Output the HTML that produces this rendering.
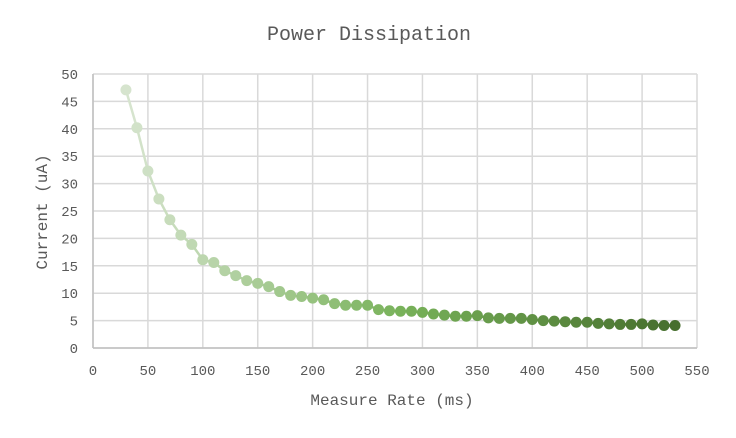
<!DOCTYPE html>
<html><head><meta charset="utf-8"><style>
html,body{margin:0;padding:0;background:#fff;width:736px;height:438px;overflow:hidden}
svg text{font-family:"Liberation Mono","Noto Serif CJK SC",monospace;fill:#595959}
</style></head><body>
<svg id="c" width="736" height="438" xmlns="http://www.w3.org/2000/svg">
<text x="369" y="40" font-size="20" text-anchor="middle">Power Dissipation</text>
<text x="392" y="405" font-size="16" text-anchor="middle">Measure Rate (ms)</text>
<text transform="translate(47,212) rotate(-90)" font-size="16" text-anchor="middle">Current (uA)</text>
<g id="g"></g>
</svg>
<script>
var g=document.getElementById('g'),s='';
var X0=93,XS=604/550,Y0=348,YS=274/50;
for(var i=0;i<=11;i++){var x=X0+i*50*XS;s+='<line x1="'+x+'" y1="74" x2="'+x+'" y2="'+Y0+'" stroke="#d9d9d9" stroke-width="1.5"/>';
s+='<text x="'+x+'" y="375" font-size="14" text-anchor="middle">'+(i*50)+'</text>';}
for(var j=0;j<=10;j++){var y=Y0-j*5*YS;s+='<line x1="'+X0+'" y1="'+y+'" x2="697" y2="'+y+'" stroke="#d9d9d9" stroke-width="1.5"/>';
s+='<text x="78" y="'+(y+5)+'" font-size="14" text-anchor="end">'+(j*5)+'</text>';}
s+='<line x1="'+X0+'" y1="74" x2="'+X0+'" y2="'+Y0+'" stroke="#bfbfbf" stroke-width="1.5"/>';
s+='<line x1="'+X0+'" y1="'+Y0+'" x2="697" y2="'+Y0+'" stroke="#bfbfbf" stroke-width="1.5"/>';
var v=[47.1,40.2,32.3,27.2,23.4,20.6,18.9,16.1,15.6,14.1,13.2,12.3,11.8,11.2,10.3,9.6,9.4,9.1,8.8,8.1,7.8,7.8,7.8,7.0,6.8,6.7,6.7,6.5,6.2,6.0,5.8,5.8,5.9,5.5,5.4,5.4,5.4,5.2,5.0,4.9,4.8,4.7,4.7,4.5,4.4,4.3,4.3,4.4,4.2,4.1,4.1];
var n=v.length;
function col(t){var a=[214,228,206],m=[120,178,90],b=[70,110,45],c;
if(t<0.5){var u=t/0.5;c=a.map(function(q,k){return Math.round(q+(m[k]-q)*u)});}
else{var u=(t-0.5)/0.5;c=m.map(function(q,k){return Math.round(q+(b[k]-q)*u)});}
return 'rgb('+c.join(',')+')';}
for(var k=0;k<n-1;k++){s+='<line x1="'+(X0+(30+k*10)*XS)+'" y1="'+(Y0-v[k]*YS)+'" x2="'+(X0+(40+k*10)*XS)+'" y2="'+(Y0-v[k+1]*YS)+'" stroke="'+col(k/(n-1))+'" stroke-width="2.5"/>';}
for(var k=0;k<n;k++){s+='<circle cx="'+(X0+(30+k*10)*XS)+'" cy="'+(Y0-v[k]*YS)+'" r="5.5" fill="'+col(k/(n-1))+'"/>';}
g.innerHTML=s;
</script>
</body></html>
